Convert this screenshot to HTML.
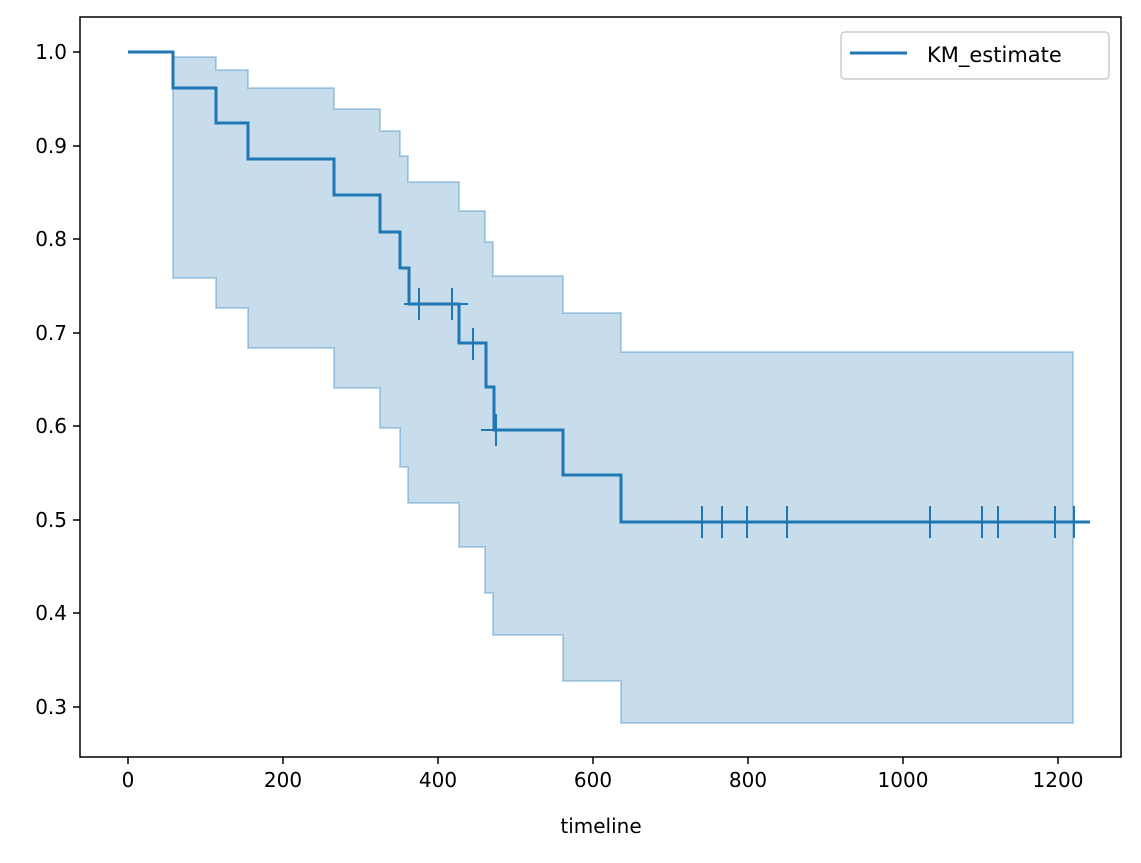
<!DOCTYPE html><html><head><style>body{margin:0;background:#fff}</style></head><body>
<svg width="1141" height="858" xmlns="http://www.w3.org/2000/svg" font-family="DejaVu Sans, sans-serif">
<rect width="1141" height="858" fill="#fff"/>
<path d="M128,52 H173 V57 H216 V70 H248 V88 H334 V109 H380 V131 H400 V156 H408 V182 H459 V211 H485 V242 H493 V276 H563 V313 H621 V352 H1073 V723 H621 V681 H563 V635 H493 V593 H485 V547 H459 V503 H408 V467 H400 V428 H380 V388 H334 V348 H248 V308 H216 V278 H173 V52 Z" fill="#1f77b4" fill-opacity="0.25" stroke="#1f77b4" stroke-opacity="0.3" stroke-width="2"/>
<g stroke="#1f77b4" fill="none">
<path d="M128,52 H173 V88 H216 V123 H248 V159 H334 V195 H380 V232 H400 V268 H409 V304 H459 V343 H486 V387 H494 V430 H563 V475 H621 V522 H1090" stroke-width="3"/>
<path d="M404,304 H468 M481,430 H494" stroke-width="2"/>
<path d="M419,288V320 M452,288V320 M473,328V360 M496,414V446 M702,506V538 M722,506V538 M747,506V538 M787,506V538 M930,506V538 M982,506V538 M998,506V538 M1055,506V538 M1074,506V538" stroke-width="2"/>
</g>
<rect x="80" y="17" width="1041" height="740" fill="none" stroke="#000" stroke-width="1.5"/>
<g stroke="#000" stroke-width="1.5">
<path d="M128,757v7 M283,757v7 M438,757v7 M593,757v7 M748,757v7 M903,757v7 M1058,757v7"/>
<path d="M80,52h-7 M80,146h-7 M80,239h-7 M80,333h-7 M80,426h-7 M80,520h-7 M80,613h-7 M80,707h-7"/>
</g>
<g font-size="20" fill="#000" text-anchor="middle">
<text x="128" y="787">0</text><text x="283" y="787">200</text><text x="438" y="787">400</text><text x="593" y="787">600</text><text x="748" y="787">800</text><text x="903" y="787">1000</text><text x="1058" y="787">1200</text>
<text x="601" y="833">timeline</text>
</g>
<g font-size="20" fill="#000" text-anchor="end">
<text x="67" y="59">1.0</text><text x="67" y="153">0.9</text><text x="67" y="246">0.8</text><text x="67" y="340">0.7</text><text x="67" y="433">0.6</text><text x="67" y="527">0.5</text><text x="67" y="620">0.4</text><text x="67" y="714">0.3</text>
</g>
<rect x="841" y="32" width="268" height="47" rx="4" fill="#fff" fill-opacity="0.8" stroke="#ccc" stroke-width="1.5"/>
<path d="M850,53H907" stroke="#1f77b4" stroke-width="3"/>
<text x="927" y="62" font-size="21" fill="#000">KM_estimate</text>
</svg>
</body></html>
